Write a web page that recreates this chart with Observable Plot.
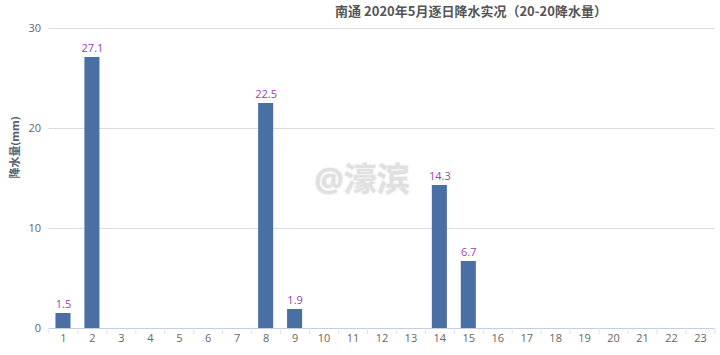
<!DOCTYPE html>
<html><head><meta charset="utf-8">
<script src="https://cdn.jsdelivr.net/npm/d3@7"></script>
<script src="https://cdn.jsdelivr.net/npm/@observablehq/plot@0.6"></script>
<style>
html,body{margin:0;padding:0;background:#fff;}
#wrap{position:relative;width:720px;height:355px;font-family:"Open Sans","Noto Sans CJK SC",sans-serif;}
#title{position:absolute;left:0;width:720px;top:1px;padding-left:222px;box-sizing:border-box;text-align:center;font-family:"Noto Sans CJK SC",sans-serif;font-size:13px;font-weight:bold;color:#555;}
</style></head>
<body><div id="wrap"><div id="title">南通 2020年5月逐日降水实况（20-20降水量）</div></div>
<script>
const days = ["1","2","3","4","5","6","7","8","9","10","11","12","13","14","15","16","17","18","19","20","21","22","23"];
const rain = [1.5,27.1,0,0,0,0,0,22.5,1.9,0,0,0,0,14.3,6.7,0,0,0,0,0,0,0,0];
const rainLabels = ["1.5","27.1","","","","","","22.5","1.9","","","","","14.3","6.7","","","","","","","","",""];
const yTicks = [0,10,20,30];
const title = "南通 2020年5月逐日降水实况（20-20降水量）";
const yLabel = "降水量(mm)";
const watermark = "@濠滨";

const W = 720, H = 355, mL = 48.5, mR = 5.6, mT = 28, mB = 27;
const step = (W - mL - mR) / days.length;
const data = days.map((d,i)=>({day:d, v:rain[i], lab:rainLabels[i]}));

const chart = Plot.plot({
  width: W, height: H,
  marginLeft: mL, marginRight: mR, marginTop: mT, marginBottom: mB,
  style: {fontFamily: '"Open Sans","Noto Sans CJK SC",sans-serif', fontSize: "11px", background: "#fff", color: "#666"},
  x: {domain: days, paddingInner: 0.48, paddingOuter: 0.24, round: false, label: null},
  y: {domain: [0,30], label: null},
  marks: [
    Plot.ruleY(yTicks.filter(t=>t>0), {stroke: "#dcdcdc", strokeWidth: 1}),
    Plot.ruleY([0], {stroke: "#c0d0e0", strokeWidth: 1}),
    Plot.ruleX(days, {x: d=>d, y1: 0, y2: -0.6, dx: -step/2, stroke: "#dde4ec"}),
    Plot.ruleX([days[days.length-1]], {x: d=>d, y1: 0, y2: -0.6, dx: step/2, stroke: "#dde4ec"}),
    Plot.axisY({ticks: yTicks, tickSize: 0, tickPadding: 8, fill: "#666", fontSize: 11, label: null}),
    Plot.axisX({tickSize: 0, tickPadding: 6, fill: "#666", fontSize: 11, label: null}),
    Plot.text([yLabel], {frameAnchor: "left", dx: -34, rotate: -90, fill: "#555e6e", fontWeight: "bold", fontSize: 11}),
    Plot.text([watermark], {frameAnchor: "middle", dx: -20, dy: 2, fill: "#e0e0e0", stroke: "#f4f4f4", strokeWidth: 2, paintOrder: "stroke", fontSize: 33, fontWeight: "bold"}),
    Plot.barY(data.filter(d=>d.v>0), {x: "day", y: "v", fill: "#4a6fa5"}),
    Plot.text(data.filter(d=>d.v>0), {x: "day", y: "v", text: "lab", dy: -9, fill: "#9b3fb5", fontSize: 11})
  ]
});
document.getElementById("wrap").appendChild(chart);
</script>
</body></html>
